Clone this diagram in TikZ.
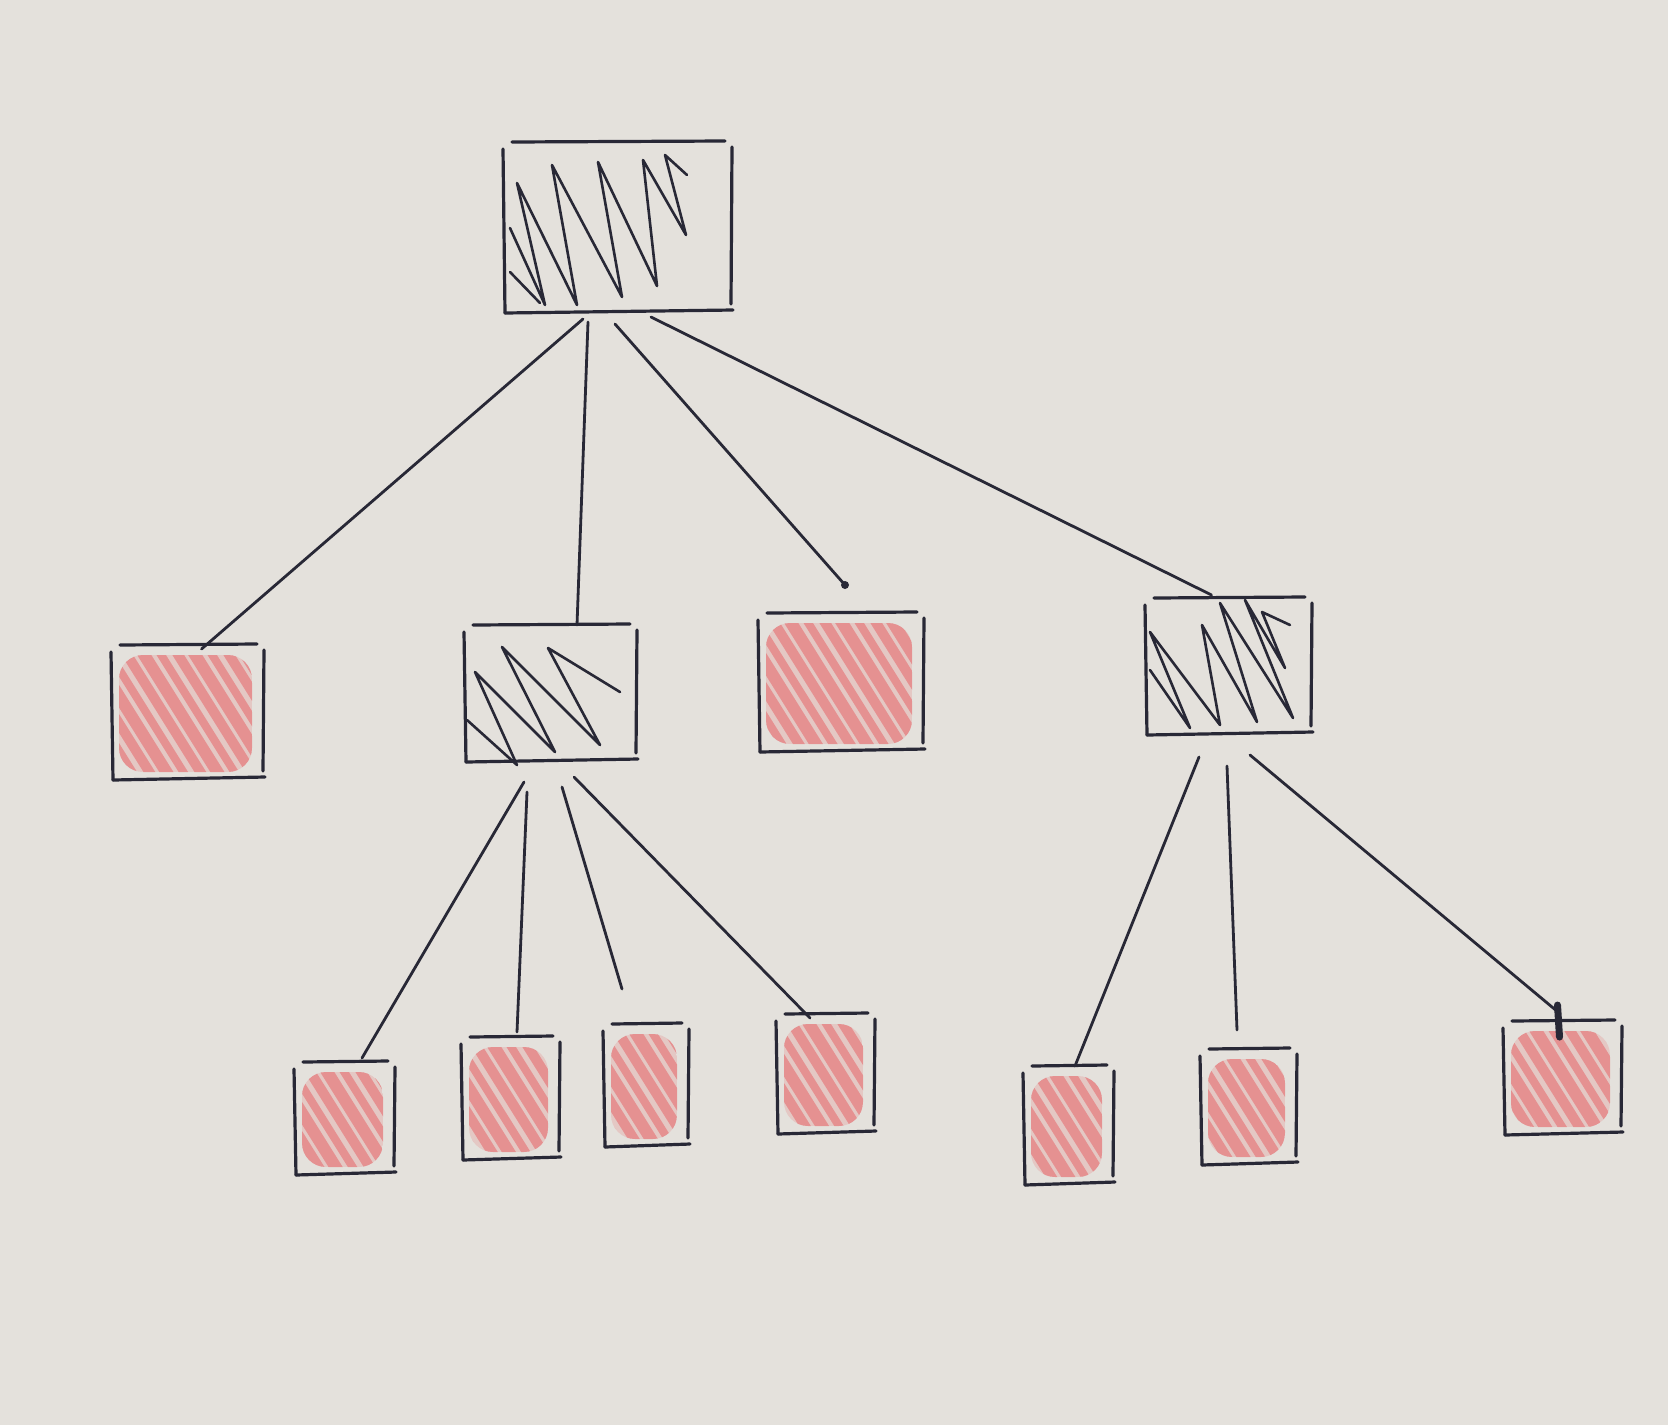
\documentclass[tikz,border=0pt]{standalone}
\usetikzlibrary{calc}
\definecolor{bg}{RGB}{228,225,220}
\definecolor{ink}{RGB}{40,40,54}
\definecolor{redink}{RGB}{230,112,115}
\tikzset{
  box/.style={rectangle, draw=none, inner sep=0pt, outer sep=0pt},
  inkline/.style={draw=ink, line width=3.2pt, line cap=round, line join=round},
  hatchline/.style={draw=ink, line width=2.6pt, line cap=round, line join=round},
  link/.style={draw=ink, line width=2.8pt, line cap=round},
}
\newcommand\skbox[1]{%
  \draw[inkline] ($(#1.north west)+(7,0)$) -- ($(#1.north east)+(-5,-1)$);
  \draw[inkline] ($(#1.north east)+(2,5)$) -- ($(#1.south east)+(1,-9)$);
  \draw[inkline] ($(#1.north west)+(-2,7)$) -- ($(#1.south west)+(0,0)$);
  \draw[inkline] ($(#1.south west)$) -- ($(#1.south east)+(3,-3)$);
}
\newcommand\redfill[1]{%
  \begin{scope}
    \clip[rounded corners=24pt] ($(#1.north west)+(6,10)$) rectangle ($(#1.south east)+(-10,-8)$);
    \fill[redink, opacity=0.22] ($(#1.north west)+(6,10)$) rectangle ($(#1.south east)+(-10,-8)$);
    \foreach \k in {-14,...,12}{
      \pgfmathsetmacro\lw{8+mod(\k+20,3)*2}
      \draw[redink, line width=\lw pt, opacity=0.62, line cap=round]
        ($(#1.north west)+(\k*17,-40)$) -- ++(150,240);
    }
  \end{scope}
}
\begin{document}
\begin{tikzpicture}[x=1pt,y=-1pt]
\fill[bg] (0,0) rectangle (1668,1425);
\useasboundingbox (0,0) rectangle (1668,1425);

% nodes
\node[box, minimum width=225pt, minimum height=171pt] (root) at (617.5,227.5) {};
\node[box, minimum width=149pt, minimum height=135pt] (A) at (187.5,712.5) {};
\node[box, minimum width=169pt, minimum height=137pt] (B) at (550.5,693.5) {};
\node[box, minimum width=162pt, minimum height=139pt] (C) at (841,682.5) {};
\node[box, minimum width=163pt, minimum height=137pt] (D) at (1228.5,666.5) {};
\node[box, minimum width=97pt, minimum height=113pt] (B1) at (344.5,1118.5) {};
\node[box, minimum width=95pt, minimum height=123pt] (B2) at (510.5,1098.5) {};
\node[box, minimum width=82pt, minimum height=123pt] (B3) at (646,1085.5) {};
\node[box, minimum width=95pt, minimum height=120pt] (B4) at (825.5,1074) {};
\node[box, minimum width=87pt, minimum height=119pt] (D1) at (1068.5,1125.5) {};
\node[box, minimum width=93pt, minimum height=116pt] (D2) at (1248.5,1107) {};
\node[box, minimum width=115pt, minimum height=114pt] (D3) at (1562.5,1078) {};

% red scribbles
\foreach \n in {A,C,B1,B2,B3,B4,D1,D2,D3}{\redfill{\n}}

% hatching
\draw[hatchline] (510,228) -- (545,305) -- (517,183) -- (577,305) -- (552,165) -- (622,297)
  -- (598,162) -- (657,286) -- (643,160) -- (686,235) -- (665,155) -- (687,175);
\draw[hatchline] (510,272) -- (540,303);
\draw[hatchline] (467,720) -- (517,765) -- (475,672) -- (555,752) -- (502,647) -- (600,745)
  -- (548,648) -- (620,692);
\draw[hatchline] (1150,670) -- (1190,728) -- (1150,632) -- (1220,725) -- (1202,625) -- (1257,722)
  -- (1220,603) -- (1293,718) -- (1245,600) -- (1285,668) -- (1262,612) -- (1290,625);

% box outlines
\foreach \n in {root,A,B,C,D,B1,B2,B3,B4,D1,D2,D3}{\skbox{\n}}

% free ends
\coordinate (cC) at ($(C.north)+(4,-28)$);
\coordinate (cB3) at ($(B3.north)+(-24,-35)$);
\coordinate (cD2) at ($(D2.north)+(-11.5,-19)$);

% connectors
\draw[link] ($(root.south)+(-34.5,6)$) -- ($(A.north)+(14,4)$);
\draw[link] ($(root.south)+(-29.5,9)$) -- ($(B.north)+(26.5,0)$);
\draw[link] ($(root.south)+(-2.5,11)$) -- (cC);
\fill[ink] (cC) circle (4pt);
\draw[link] ($(root.south)+(33.5,4)$) -- ($(D.north)+(-17,-3)$);

\draw[link] ($(B.south)+(-26.5,20)$) -- ($(B1.north)+(17.5,-4)$);
\draw[link] ($(B.south)+(-23.5,30)$) -- ($(B2.north)+(6.5,-5)$);
\draw[link] ($(B.south)+(11.5,25)$) -- (cB3);
\draw[link] ($(B.south)+(23.5,15)$) -- ($(B4.north)+(-15.5,4)$);

\draw[link] ($(D.south)+(-29.5,22)$) -- ($(D1.north)+(6.5,0)$);
\draw[link] ($(D.south)+(-1.5,31)$) -- (cD2);
\draw[link] ($(D.south)+(21.5,20)$) -- ($(D3.north)+(-4.5,-9)$);
\draw[draw=ink, line width=7pt, line cap=round] ($(D3.north)+(-5,-16)$) -- ($(D3.north)+(-3,16)$);
\end{tikzpicture}
\end{document}
